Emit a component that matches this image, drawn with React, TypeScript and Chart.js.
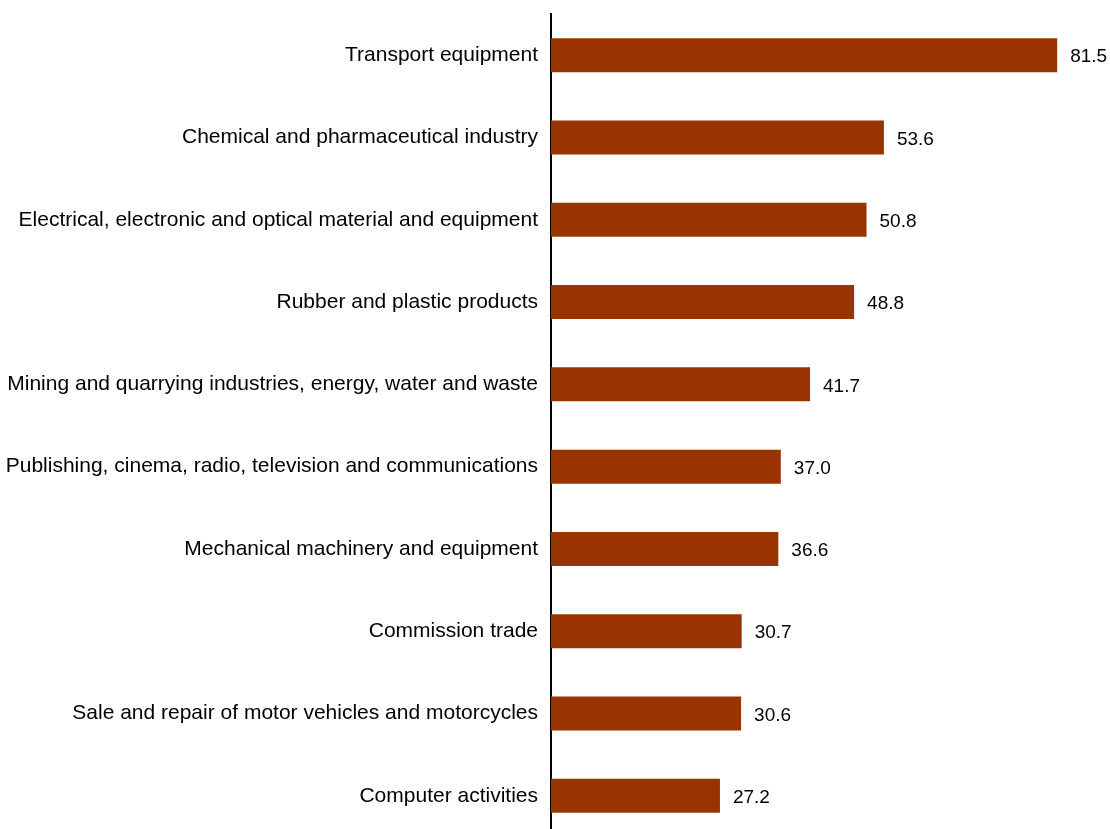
import React, { useEffect, useRef } from "react";
import { Chart, registerables } from "chart.js";

Chart.register(...registerables);

const categories = [
  "Transport equipment",
  "Chemical and pharmaceutical industry",
  "Electrical, electronic and optical material and equipment",
  "Rubber and plastic products",
  "Mining and quarrying industries, energy, water and waste",
  "Publishing, cinema, radio, television and communications",
  "Mechanical machinery and equipment",
  "Commission trade",
  "Sale and repair of motor vehicles and motorcycles",
  "Computer activities",
];

const values = [81.5, 53.6, 50.8, 48.8, 41.7, 37.0, 36.6, 30.7, 30.6, 27.2];

const FONT = "'Liberation Sans', Arial, sans-serif";

const valueLabels = {
  id: "valueLabels",
  afterDatasetsDraw(chart: any) {
    const ctx = chart.ctx;
    const meta = chart.getDatasetMeta(0);
    ctx.save();
    ctx.font = `19px ${FONT}`;
    ctx.fillStyle = "#000000";
    ctx.textAlign = "left";
    ctx.textBaseline = "middle";
    meta.data.forEach((bar: any, i: number) => {
      ctx.fillText(values[i].toFixed(1), bar.x + 13, bar.y + 2);
    });
    ctx.restore();
  },
};

export default function App() {
  const ref = useRef<HTMLCanvasElement | null>(null);
  useEffect(() => {
    if (!ref.current) return;
    const chart = new Chart(ref.current, {
      type: "bar",
      data: {
        labels: categories,
        datasets: [
          {
            data: values,
            backgroundColor: "#993300",
            categoryPercentage: 1,
            barPercentage: 0.413,
          },
        ],
      },
      options: {
        indexAxis: "y",
        responsive: false,
        animation: false,
        layout: { padding: { top: 14, bottom: 1, left: 0, right: 0 } },
        plugins: { legend: { display: false }, tooltip: { enabled: false } },
        scales: {
          x: { display: false, min: 0, max: 90 },
          y: {
            afterFit(scale: any) {
              scale.width = 551;
              scale.paddingTop = 0;
              scale.paddingBottom = 0;
            },
            grid: { display: false, drawTicks: false },
            border: { display: true, color: "#000000", width: 2 },
            ticks: {
              color: "#000000",
              padding: 13,
              font: { family: FONT, size: 21 },
              autoSkip: false,
            },
          },
        },
      },
      plugins: [valueLabels],
    });
    return () => chart.destroy();
  }, []);
  return (
    <div
      style={{
        position: "fixed",
        left: 0,
        top: 0,
        width: 1110,
        height: 829,
        overflow: "hidden",
        background: "#ffffff",
      }}
    >
      <canvas ref={ref} width={1110} height={838} style={{ display: "block" }} />
    </div>
  );
}
